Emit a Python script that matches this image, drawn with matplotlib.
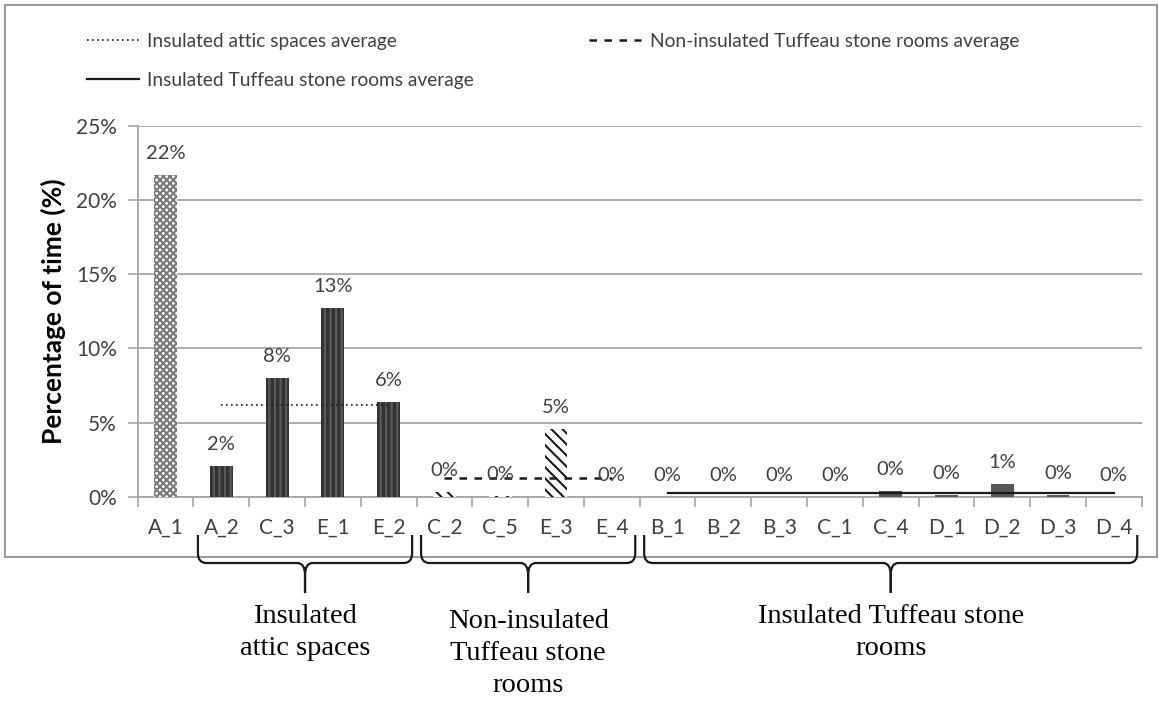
import matplotlib
matplotlib.use("Agg")
import matplotlib.pyplot as plt
import numpy as np
from matplotlib.path import Path
from matplotlib.patches import PathPatch, Rectangle
from matplotlib.transforms import blended_transform_factory

# rooms and % of time
rooms = ["A_1", "A_2", "C_3", "E_1", "E_2", "C_2", "C_5", "E_3", "E_4",
         "B_1", "B_2", "B_3", "C_1", "C_4", "D_1", "D_2", "D_3", "D_4"]
values = [21.7, 2.1, 8.0, 12.7, 6.4, 0.35, 0.05, 4.6, 0.0,
          0.0, 0.0, 0.0, 0.0, 0.4, 0.15, 0.9, 0.15, 0.0]
room_kind = ["ref"] + ["attic"] * 4 + ["stone"] * 4 + ["ins_stone"] * 9

group_names = ["Insulated\nattic spaces",
               "Non-insulated\nTuffeau stone\nrooms",
               "Insulated Tuffeau stone\nrooms"]
group_first = [1, 5, 9]
group_last = [4, 8, 17]

avg_labels = ["Insulated attic spaces average",
              "Non-insulated Tuffeau stone rooms average",
              "Insulated Tuffeau stone rooms average"]
avg_values = [6.2, 1.25, 0.27]
avg_styles = [(0, (1, 2)), (0, (3, 3)), "-"]
avg_widths = [1.2, 1.8, 1.6]

bar_style = {
    "ref": dict(facecolor="white", edgecolor="#7a7a7a", hatch="xxxxx"),
    "attic": dict(facecolor="#333333", edgecolor="#5c5c5c", hatch="|||"),
    "stone": dict(facecolor="white", edgecolor="#1a1a1a", hatch="\\\\\\"),
    "ins_stone": dict(facecolor="#575757", edgecolor="#575757", hatch=None),
}

plt.rcParams["font.family"] = ["Lato", "DejaVu Sans"]
plt.rcParams["hatch.linewidth"] = 1.5
txt_col = "#404040"
grid_col = "#a6a6a6"

W, H = 1159, 706
fig = plt.figure(figsize=(W / 100, H / 100), dpi=100)
ax = fig.add_axes([137.7 / W, 1 - 497 / H, 1004 / W, 371.5 / H])
ax.set_facecolor("none")

x = np.arange(len(rooms))
for i, v in enumerate(values):
    ax.bar(x[i], v, width=0.41, linewidth=0, zorder=3, **bar_style[room_kind[i]])
    ax.annotate(f"{v:.0f}%", (x[i], v), xytext=(0, 11.5), textcoords="offset points",
                ha="center", va="baseline", fontsize=14.5, color=txt_col, zorder=5)

lines = []
for a, b, v, ls, lw, lab in zip(group_first, group_last, avg_values, avg_styles,
                                avg_widths, avg_labels):
    ln, = ax.plot([x[a], x[b]], [v, v], color="#1a1a1a", linestyle=ls,
                  linewidth=lw, label=lab, zorder=4)
    lines.append(ln)

ax.set_xlim(-0.5, len(rooms) - 0.5)
ax.set_ylim(0, 25)
ax.set_yticks(np.arange(0, 26, 5))
ax.set_yticklabels([f"{t}%" for t in range(0, 26, 5)], fontsize=15, color=txt_col)
ax.yaxis.grid(True, color=grid_col, linewidth=1.3, zorder=0)
ax.set_axisbelow(True)

ax.set_xticks(np.arange(-0.5, len(rooms), 1))
ax.set_xticklabels([])
ax.set_xticks(x, minor=True)
ax.set_xticklabels(rooms, minor=True, fontsize=15, color=txt_col)
ax.tick_params(axis="x", which="major", length=7, color=grid_col, width=1.2)
ax.tick_params(axis="x", which="minor", length=0, pad=15)
ax.tick_params(axis="y", length=7, color=grid_col, width=1.2, pad=8)

for s in ["top", "right"]:
    ax.spines[s].set_visible(False)
for s in ["left", "bottom"]:
    ax.spines[s].set_color(grid_col)
    ax.spines[s].set_linewidth(1.3)

ax.set_ylabel("Percentage of time (%)", fontsize=19, fontweight="bold",
              color="black", labelpad=7)

fig.legend(handles=[lines[0], lines[2], lines[1]],
           ncol=2, loc="upper left", bbox_to_anchor=(87 / W, 1 - 33 / H),
           frameon=False, borderpad=0, borderaxespad=0,
           handlelength=2.7, handletextpad=0.45, columnspacing=6.0,
           labelspacing=1.15, prop={"family": "Lato", "size": 13.8},
           labelcolor=txt_col)

# overlay in pixel coordinates for the outer frame and the group braces
ov = fig.add_axes([0, 0, 1, 1], zorder=5)
ov.set_xlim(0, W)
ov.set_ylim(H, 0)
ov.axis("off")
ov.add_patch(Rectangle((5, 5), 1152, 552, fill=False, edgecolor="#9a9a9a",
                       linewidth=1.5))

tr = blended_transform_factory(ax.transData, ov.transData)
top, flat, tip = 535, 563, 593
for a, b, name, dy in zip(group_first, group_last, group_names, [0, 5, 0]):
    xa, xb = a - 0.5 + 0.08, b + 0.5 - 0.08
    xm = (xa + xb) / 2
    for side in (1, -1):
        x0 = xa if side == 1 else xb
        verts = [(x0, top), (x0, flat - 10), (x0, flat), (x0 + side * 0.15, flat),
                 (xm - side * 0.14, flat), (xm, flat), (xm, flat + 12), (xm, tip)]
        codes = [Path.MOVETO, Path.LINETO, Path.CURVE3, Path.CURVE3,
                 Path.LINETO, Path.CURVE3, Path.CURVE3, Path.LINETO]
        ov.add_patch(PathPatch(Path(verts, codes), transform=tr, fill=False,
                               edgecolor="#1a1a1a", linewidth=1.6, clip_on=False))
    ov.text(xm, 604 + dy, name, transform=tr, ha="center", va="top",
            fontsize=20.5, family=["Liberation Serif", "DejaVu Serif"],
            linespacing=1.38, multialignment="center")

fig.savefig("out.png", dpi=100)
plt.close(fig)
